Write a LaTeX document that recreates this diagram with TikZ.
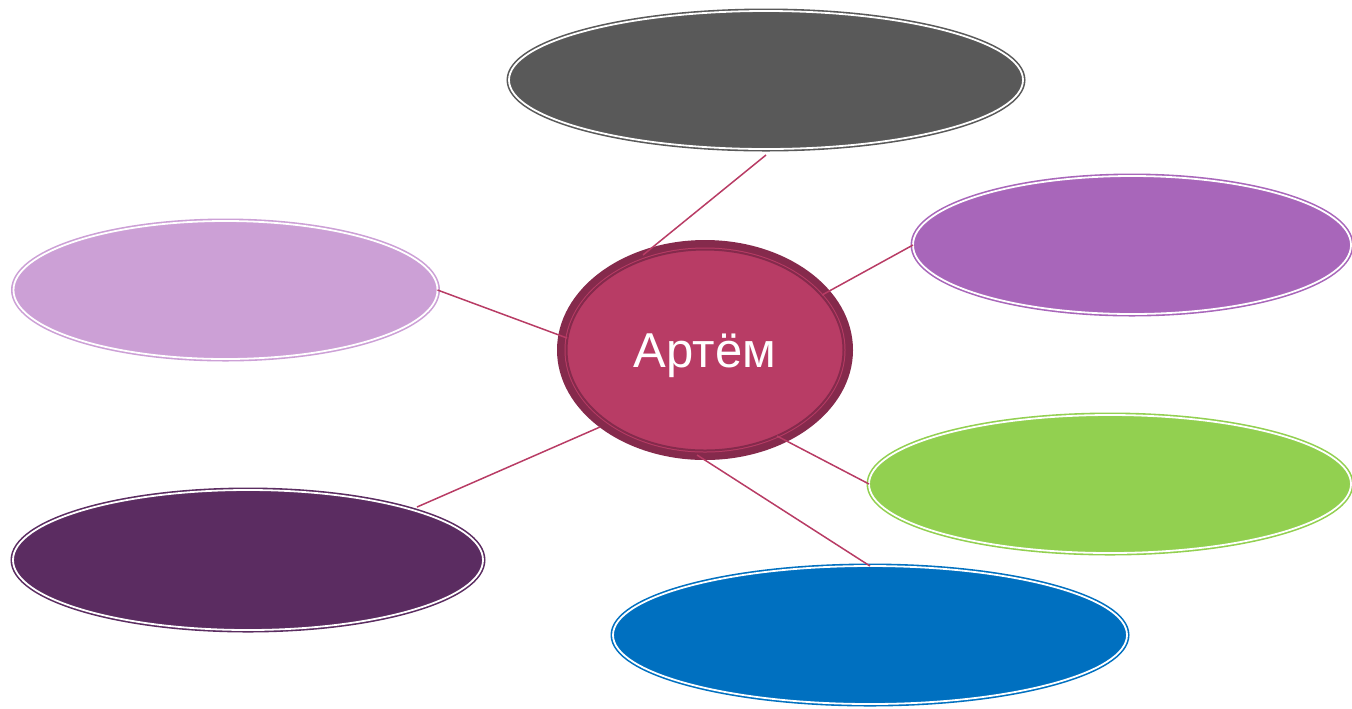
\documentclass[tikz,border=0pt]{standalone}
\usepackage{fontspec}
\setmainfont{Liberation Sans}
\usetikzlibrary{shapes.geometric}
\definecolor{cgray}{HTML}{595959}
\definecolor{cpurple}{HTML}{A866BA}
\definecolor{clight}{HTML}{CCA0D6}
\definecolor{cgreen}{HTML}{92D050}
\definecolor{cblue}{HTML}{0070C0}
\definecolor{cdark}{HTML}{5B2C61}
\definecolor{cpink}{HTML}{B83C65}
\definecolor{cring}{HTML}{852A4C}
\tikzset{
  bubble/.style={ellipse, fill=#1, draw=#1, double=white, line width=0.8pt,
    double distance=0.9pt, inner sep=0pt, outer sep=0pt},
  link/.style={draw=cpink, line width=0.75pt},
}
\begin{document}
\begin{tikzpicture}[x=0.5pt,y=-0.5pt]
\useasboundingbox (0,0) rectangle (1352,708);
\node[bubble=cgray, minimum width=257pt, minimum height=69pt] (top) at (766,80) {};
\node[bubble=cpurple, minimum width=219pt, minimum height=69pt] (rp) at (1132,245) {};
\node[bubble=clight, minimum width=212pt, minimum height=69pt] (lp) at (225.5,290) {};
\node[bubble=cdark, minimum width=235pt, minimum height=70pt] (dp) at (248,560) {};
\node[bubble=cgreen, minimum width=241pt, minimum height=69pt] (gr) at (1110,484) {};
\node[bubble=cblue, minimum width=257pt, minimum height=69pt] (bl) at (870,635) {};
% central bubble
\node[ellipse, fill=cring, minimum width=148pt, minimum height=110pt, inner sep=0pt, outer sep=0pt] (c) at (705,350) {};
\node[ellipse, fill=cpink, minimum width=140.5pt, minimum height=102.5pt, inner sep=0pt, outer sep=0pt] (ci) at (705,350) {};
\node[ellipse, draw=cring, line width=1pt, minimum width=138.5pt, minimum height=100.5pt, inner sep=0pt, outer sep=0pt] (cr) at (705,350) {};
\node[text=white, font=\fontsize{24.5pt}{28pt}\selectfont] (name) at (705,356) {Артём};
% connector ends
\coordinate (e1) at (643,255);
\coordinate (e2) at (822,295);
\coordinate (e3) at (567,338);
\coordinate (e4) at (600,427);
\coordinate (e5) at (777,436);
\coordinate (e6) at (697,455);
\coordinate (s1) at (766,155);
\coordinate (s4) at (417,507);
\draw[link] (s1) -- (e1);
\draw[link] (rp.west) -- (e2);
\draw[link] (lp.east) -- (e3);
\draw[link] (s4) -- (e4);
\draw[link] (gr.west) -- (e5);
\draw[link] (bl.north) -- (e6);
\end{tikzpicture}
\end{document}
